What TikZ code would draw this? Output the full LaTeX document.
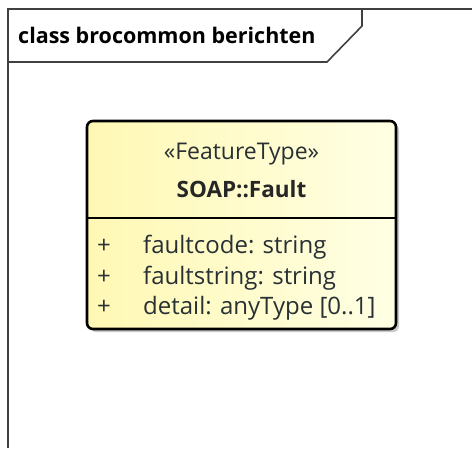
\documentclass[tikz,border=0pt]{standalone}
\usepackage{fontspec}
\setmainfont{Open Sans}
\usetikzlibrary{shadows}
\definecolor{framecol}{RGB}{64,64,64}
\definecolor{txtcol}{RGB}{40,48,52}
\definecolor{fillL}{RGB}{255,248,180}
\definecolor{fillR}{RGB}{255,255,228}
\tikzset{
  x=1pt, y=-1pt,
  frameline/.style={draw=framecol, line width=1.6pt},
  classbox/.style={draw=black, line width=2.6pt, rounded corners=6pt,
    left color=fillL, right color=fillR, inner sep=0pt,
    drop shadow={shadow xshift=3pt, shadow yshift=-3pt, fill=black!35, opacity=0.6}},
  titletxt/.style={font=\fontsize{21.5}{24}\selectfont\bfseries, text=black, inner sep=0pt, anchor=base west},
  stereo/.style={font=\fontsize{23}{26}\selectfont, text=txtcol, inner sep=0pt, anchor=base},
  cname/.style={font=\fontsize{22.5}{26}\selectfont\bfseries, text=black!85, inner sep=0pt, anchor=base},
  attr/.style={font=\fontsize{24}{26}\selectfont, text=txtcol, inner sep=0pt, anchor=base west},
  vis/.style={font=\fontsize{24}{26}\selectfont, text=txtcol, inner sep=0pt, anchor=base},
}
\begin{document}
\begin{tikzpicture}
\useasboundingbox[fill=white] (0,0) rectangle (472,448);
% frame
\coordinate (ftr) at (472,9);
\coordinate (ftl) at (8,9);
\coordinate (fbl) at (8,448);
\coordinate (t1) at (8,62);
\coordinate (t2) at (327,62);
\coordinate (t3) at (362,26);
\coordinate (t4) at (362,9);
\draw[frameline] (ftr) -- (ftl) -- (fbl);
\draw[frameline] (t1) -- (t2) -- (t3) -- (t4);
\node[titletxt] (title) at (18,43) {class brocommon berichten};
% class
\node[classbox, minimum width=309pt, minimum height=208pt] (cls) at (241.5,225) {};
\coordinate (sepL) at (87,218);
\coordinate (sepR) at (396,218);
\draw[black, line width=2.6pt] (sepL) -- (sepR);
\node[stereo] (st) at (241.5,159) {«FeatureType»};
\node[cname] (nm) at (241.5,197) {SOAP::Fault};
\node[vis] (v1) at (104,253) {+};
\node[vis] (v2) at (104,284) {+};
\node[vis] (v3) at (104,314) {+};
\node[attr] (a1) at (143,253) {faultcode: string};
\node[attr] (a2) at (143,284) {faultstring: string};
\node[attr] (a3) at (143,314) {detail: anyType [0..1]};
\end{tikzpicture}
\end{document}
